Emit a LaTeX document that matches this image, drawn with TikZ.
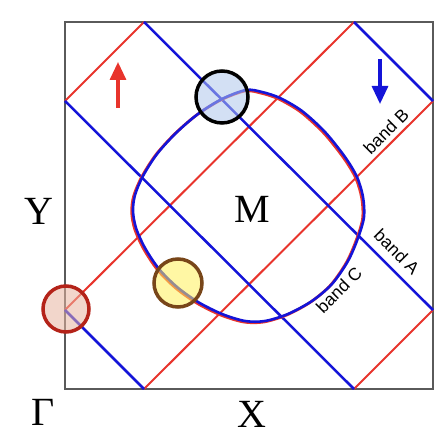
\documentclass[tikz,border=0pt]{standalone}
\usepackage{fontspec}
\setmainfont{Liberation Serif}
\newfontfamily\bandfont{Liberation Sans}
\usetikzlibrary{arrows.meta}
\definecolor{gridred}{HTML}{E8342C}
\definecolor{gridblue}{HTML}{1414D8}
\definecolor{boxgray}{HTML}{5A5A5A}
\tikzset{
  redline/.style={gridred, line width=2pt},
  blueline/.style={gridblue, line width=2.5pt},
  fermired/.style={gridred, line width=2.8pt},
  fermiblue/.style={gridblue, line width=2.6pt},
  bigletter/.style={font=\fontsize{40}{40}\selectfont, inner sep=0pt},
  bandlabel/.style={font=\bandfont\fontsize{17.5}{17.5}\selectfont, inner sep=0pt},
  spinarrow/.style={line width=3.2pt, -{Triangle[length=18pt,width=16pt]}},
  marker/.style={line width=3.5pt, fill opacity=0.55},
}
\begin{document}
\begin{tikzpicture}[x=1pt,y=1pt]
\useasboundingbox (0,0) rectangle (446,435);
% corners and line end points
\coordinate (G) at (65,46);
\coordinate (TR) at (433,413);
\coordinate (l1) at (65,334);
\coordinate (l2) at (65,125);
\coordinate (t1) at (144,413);
\coordinate (t2) at (354,413);
\coordinate (b1) at (144,46);
\coordinate (b2) at (354,46);
\coordinate (r1) at (433,334);
\coordinate (r2) at (433,125);
% box
\draw[boxgray, line width=1.8pt] (G) rectangle (TR);
% red lines (slope +1)
\draw[redline] (l1) -- (t1);
\draw[redline] (l2) -- (t2);
\draw[redline] (b1) -- (r1);
\draw[redline] (b2) -- (r2);
% blue lines (slope -1)
\draw[blueline] (t1) -- (r2);
\draw[blueline] (l1) -- (b2);
\draw[blueline] (t2) -- (r1);
\draw[blueline] (l2) -- (b1);
% Fermi surface (red slightly shifted, blue on top)
\def\fermipts{(246,345) (262,343) (280,337) (302,324) (325,303) (345,278) (357,258)
 (363,238) (364,218) (358,197) (348,174) (332,151) (312,134) (288,121) (265,114)
 (245,114) (222,121) (198,133) (177,148) (159,166) (145,187) (136,207) (133,224)
 (135,240) (143,259) (157,281) (176,302) (198,321) (222,336)}
\draw[fermired, shift={(-1.3,-1)}] plot[smooth cycle, tension=0.5] coordinates {\fermipts};
\draw[fermiblue] plot[smooth cycle, tension=0.5] coordinates {\fermipts};
% spin arrows
\coordinate (ra0) at (118,327);
\coordinate (ra1) at (118,373);
\coordinate (ba0) at (380,376);
\coordinate (ba1) at (380,331);
\draw[spinarrow, gridred] (ra0) -- (ra1);
\draw[spinarrow, gridblue] (ba0) -- (ba1);
% markers
\draw[marker, draw=black, fill={rgb,255:red,175;green,198;blue,235}] (222,338) circle (26);
\draw[marker, draw={rgb,255:red,180;green,35;blue,25}, fill={rgb,255:red,232;green,180;blue,160}] (66,126) circle (23);
\draw[marker, draw={rgb,255:red,120;green,70;blue,25}, fill={rgb,255:red,255;green,240;blue,90}] (178,152) circle (24);
% labels
\node[bigletter] (Y) at (39,224) {Y};
\node[bigletter] (M) at (252,226) {M};
\node[bigletter] (Gam) at (43,23) {Γ};
\node[bigletter] (X) at (252,21) {X};
\node[bandlabel, rotate=45] (bB) at (386,304) {band B};
\node[bandlabel, rotate=-45] (bA) at (397,183) {band A};
\node[bandlabel, rotate=45] (bC) at (339,145) {band C};
\end{tikzpicture}
\end{document}
